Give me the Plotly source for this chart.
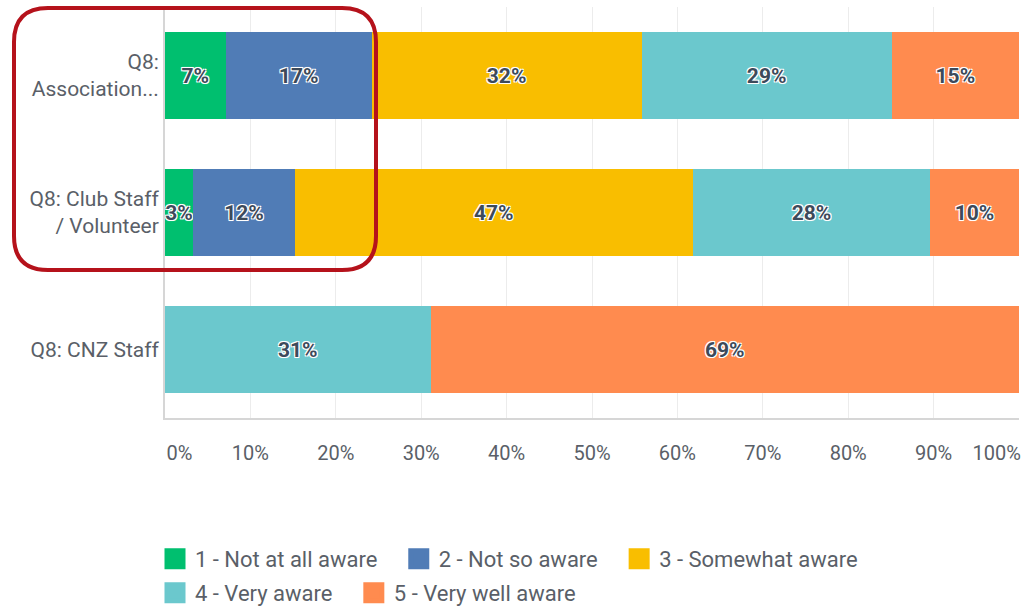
import plotly.graph_objects as go

categories = ["Q8:<br>Association...", "Q8: Club Staff<br>/ Volunteer", "Q8: CNZ Staff"]
series_names = ["1 - Not at all aware", "2 - Not so aware", "3 - Somewhat aware",
                "4 - Very aware", "5 - Very well aware"]
not_at_all = [7.1, 3.3, 0]
not_so = [17.1, 11.9, 0]
somewhat = [31.6, 46.6, 0]
very = [29.3, 27.8, 31.1]
very_well = [14.9, 10.4, 68.9]
colors = ["#00bf6f", "#507cb6", "#f9be00", "#6bc8cd", "#ff8b4f"]
tick_vals = [0, 10, 20, 30, 40, 50, 60, 70, 80, 90, 100]
tick_labels = ["0%", "10%", "20%", "30%", "40%", "50%", "60%", "70%", "80%", "90%", "100%"]
label_pos = [1.7, 10, 20, 30, 40, 50, 60, 70, 80, 90, 97.4]

W, H = 1023, 607
ML, MR, MT, MB = 165, 4, 7, 189
PW, PH = W - ML - MR, H - MT - MB

halo = "-1px -1px 0 #fff, 1px -1px 0 #fff, -1px 1px 0 #fff, 1px 1px 0 #fff, 0 0 2px #fff"
TXT = "#5a5f68"
PAD = "\u00a0\u00a0\u00a0"

fig = go.Figure()
all_series = [not_at_all, not_so, somewhat, very, very_well]
for i, (name, vals) in enumerate(zip(series_names, all_series)):
    fig.add_trace(go.Bar(
        y=categories, x=vals, name=name, orientation="h",
        marker=dict(color=colors[i], line=dict(width=0)),
        text=[f"{round(v)}%" if v > 0 else "" for v in vals],
        textposition="inside", insidetextanchor="middle", constraintext="none",
        textangle=0,
        textfont=dict(family="Roboto", size=21, color="#3d4a5a", weight="bold", shadow=halo),
        showlegend=False, hoverinfo="skip",
    ))

# legend entries (larger swatches)
for i, name in enumerate(series_names):
    fig.add_trace(go.Scatter(
        x=[None], y=[None], mode="markers", name=name + (PAD if i not in (2, 4) else ""),
        marker=dict(symbol="square", size=16, color=colors[i],
                    line=dict(width=5, color=colors[i])),
        legend="legend" if i < 3 else "legend2", hoverinfo="skip",
    ))

# dummy invisible trace to make xaxis2 render
fig.add_trace(go.Scatter(x=[None], y=[None], xaxis="x2", showlegend=False, hoverinfo="skip"))

legend_x = (155 - ML) / PW

fig.update_layout(
    width=W, height=H, barmode="stack", bargap=0.372,
    margin=dict(l=ML, r=MR, t=MT, b=MB, autoexpand=False),
    paper_bgcolor="white", plot_bgcolor="white",
    font=dict(family="Roboto", color=TXT),
    xaxis=dict(range=[0, 100], tickvals=tick_vals, showticklabels=False,
               showgrid=True, gridcolor="#ececec", gridwidth=1,
               showline=True, linecolor="#d6d6d6", linewidth=2, zeroline=False,
               automargin=False),
    xaxis2=dict(range=[0, 100], overlaying="x", anchor="y", side="bottom",
                tickvals=label_pos, ticktext=tick_labels, showgrid=False,
                showline=False, zeroline=False, ticks="", ticklabelstandoff=21,
                tickfont=dict(size=20, color=TXT), automargin=False),
    yaxis=dict(autorange="reversed", showline=True, linecolor="#d6d6d6", linewidth=2,
               showgrid=False, ticks="", tickfont=dict(size=21, color=TXT),
               ticklabelstandoff=0, automargin=False),
    legend=dict(orientation="h", x=legend_x, y=(MT + PH - 559) / PH, xanchor="left",
                yanchor="middle", font=dict(size=22, color=TXT), itemsizing="trace",
                bgcolor="rgba(0,0,0,0)", traceorder="normal"),
    legend2=dict(orientation="h", x=legend_x, y=(MT + PH - 593) / PH, xanchor="left",
                 yanchor="middle", font=dict(size=22, color=TXT), itemsizing="trace",
                 bgcolor="rgba(0,0,0,0)", traceorder="normal"),
)

# red rounded highlight rectangle (pixel coords converted to paper)
def px(x):
    return (x - ML) / PW

def py(y):
    return (MT + PH - y) / PH

L, R, T, B, r = 14, 376, 8, 270, 34
path = (f"M {px(L + r)} {py(T)} L {px(R - r)} {py(T)} Q {px(R)} {py(T)} {px(R)} {py(T + r)} "
        f"L {px(R)} {py(B - r)} Q {px(R)} {py(B)} {px(R - r)} {py(B)} "
        f"L {px(L + r)} {py(B)} Q {px(L)} {py(B)} {px(L)} {py(B - r)} "
        f"L {px(L)} {py(T + r)} Q {px(L)} {py(T)} {px(L + r)} {py(T)} Z")
fig.add_shape(type="path", path=path, xref="paper", yref="paper",
              line=dict(color="#b5121b", width=4), fillcolor="rgba(0,0,0,0)", layer="above")

fig.write_html("out.html", config={"displayModeBar": False},
               post_script="document.body.style.margin='0';document.body.style.overflow='hidden';")
